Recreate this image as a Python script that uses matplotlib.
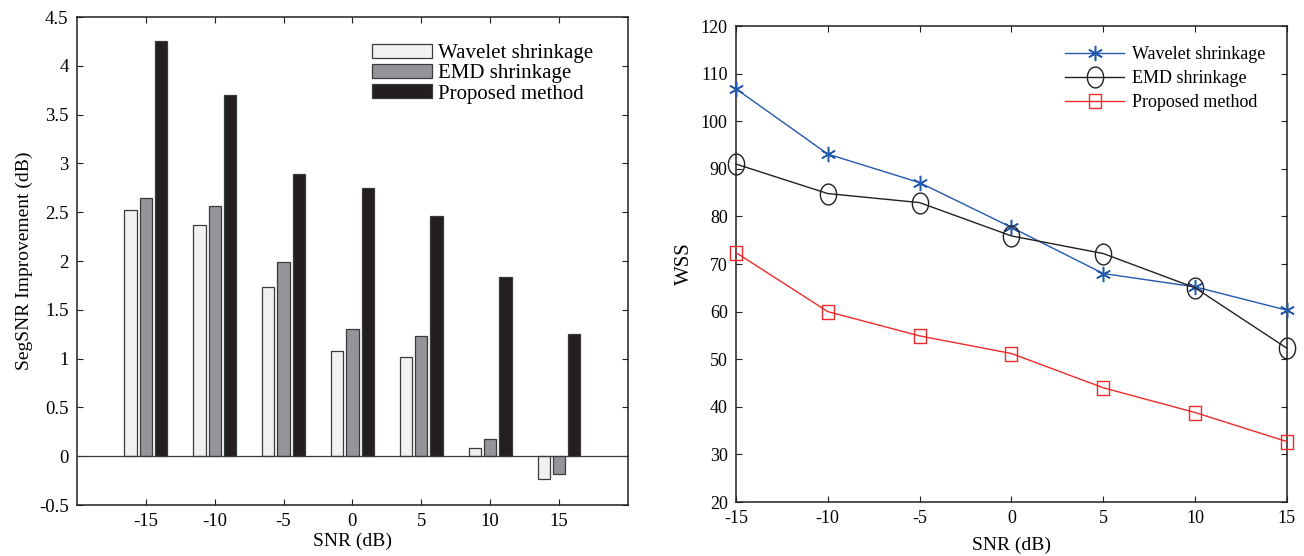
import matplotlib
matplotlib.use("Agg")
import matplotlib.pyplot as plt
from matplotlib.path import Path
import numpy as np

plt.rcParams['font.family'] = ['Liberation Serif', 'DejaVu Serif']
plt.rcParams['font.size'] = 12

# data
snr = [-15, -10, -5, 0, 5, 10, 15]
series_names = ["Wavelet shrinkage", "EMD shrinkage", "Proposed method"]

seg_wavelet = [2.52, 2.37, 1.73, 1.08, 1.02, 0.08, -0.23]
seg_emd = [2.65, 2.56, 1.99, 1.30, 1.23, 0.18, -0.18]
seg_proposed = [4.25, 3.70, 2.89, 2.75, 2.46, 1.84, 1.25]

wss_wavelet = [106.8, 93.1, 87.1, 77.7, 68.0, 65.2, 60.3]
wss_emd = [91.0, 84.8, 82.9, 75.9, 72.2, 65.0, 52.3]
wss_proposed = [72.4, 60.0, 54.9, 51.2, 44.0, 38.8, 32.7]

# the right panel looks a bit squeezed sideways, so use narrow markers
t = np.linspace(0, 2 * np.pi, 60)
ellipse = Path(np.column_stack([0.39 * np.cos(t), 0.5 * np.sin(t)]), closed=True)
rect = Path([[-0.44, -0.5], [0.44, -0.5], [0.44, 0.5], [-0.44, 0.5], [-0.44, -0.5]], closed=True)

fig = plt.figure(figsize=(13.04, 5.56), dpi=100)

# left: grouped bars
ax1 = fig.add_axes([0.0590, 0.0917, 0.4225, 0.8777])
bar_colors = ['#f0f1f1', '#939598', '#231f20']
offsets = [-1.11, 0.0, 1.11]
x = np.array(snr, dtype=float)
for vals, col, off, name in zip([seg_wavelet, seg_emd, seg_proposed], bar_colors, offsets, series_names):
    ax1.bar(x + off, vals, width=0.89, color=col, edgecolor='#3a3a3a', linewidth=0.9, label=name, zorder=2)
ax1.axhline(0, color='#3a3a3a', linewidth=0.9, zorder=3)
ax1.set_xlim(-20, 20)
ax1.set_ylim(-0.5, 4.5)
ax1.set_xticks(snr)
ax1.set_xticklabels([str(v) for v in snr])
ax1.set_yticks(np.arange(-0.5, 4.51, 0.5))
ax1.set_yticklabels(['-0.5', '0', '0.5', '1', '1.5', '2', '2.5', '3', '3.5', '4', '4.5'])
ax1.set_xlabel("SNR (dB)", fontsize=14, labelpad=2)
ax1.set_ylabel("SegSNR Improvement (dB)", fontsize=14, labelpad=4)
ax1.legend(loc='upper left', bbox_to_anchor=(0.535, 0.945), frameon=False, fontsize=15,
           handlelength=2.9, handleheight=0.65, handletextpad=0.3, labelspacing=0.05,
           borderpad=0, borderaxespad=0)

# right: lines
ax2 = fig.add_axes([0.5644, 0.0971, 0.4225, 0.8561])
ax2.plot(snr, wss_wavelet, color='#2458ac', linewidth=1.0, marker=(6, 2, 0), markersize=11,
         markeredgewidth=1.1, label=series_names[0], clip_on=False, zorder=3)
ax2.plot(snr, wss_emd, color='#231f20', linewidth=1.0, marker=ellipse, markersize=15,
         markerfacecolor='none', markeredgewidth=1.0, label=series_names[1], clip_on=False, zorder=3)
ax2.plot(snr, wss_proposed, color='#ee2a2a', linewidth=1.0, marker=rect, markersize=9.5,
         markerfacecolor='none', markeredgewidth=1.0, label=series_names[2], clip_on=False, zorder=3)
ax2.set_xlim(-15, 15)
ax2.set_ylim(20, 120)
ax2.set_xticks(snr)
ax2.set_xticklabels([str(v) for v in snr])
ax2.set_yticks(np.arange(20, 121, 10))
ax2.set_xlabel("SNR (dB)", fontsize=14, labelpad=7)
ax2.set_ylabel("WSS", fontsize=15, labelpad=5)
ax2.legend(loc='upper left', bbox_to_anchor=(0.597, 0.958), frameon=False, fontsize=13,
           handlelength=3.3, handletextpad=0.4, labelspacing=0.4,
           borderpad=0, borderaxespad=0)

for ax, lsize in ((ax1, 13.5), (ax2, 13)):
    ax.tick_params(direction='in', top=True, right=True, length=4, width=0.8,
                   labelsize=lsize, color='#231f20', pad=6)
    for s in ax.spines.values():
        s.set_linewidth(1.1)
        s.set_color('#231f20')

fig.savefig("out.png", dpi=100)
